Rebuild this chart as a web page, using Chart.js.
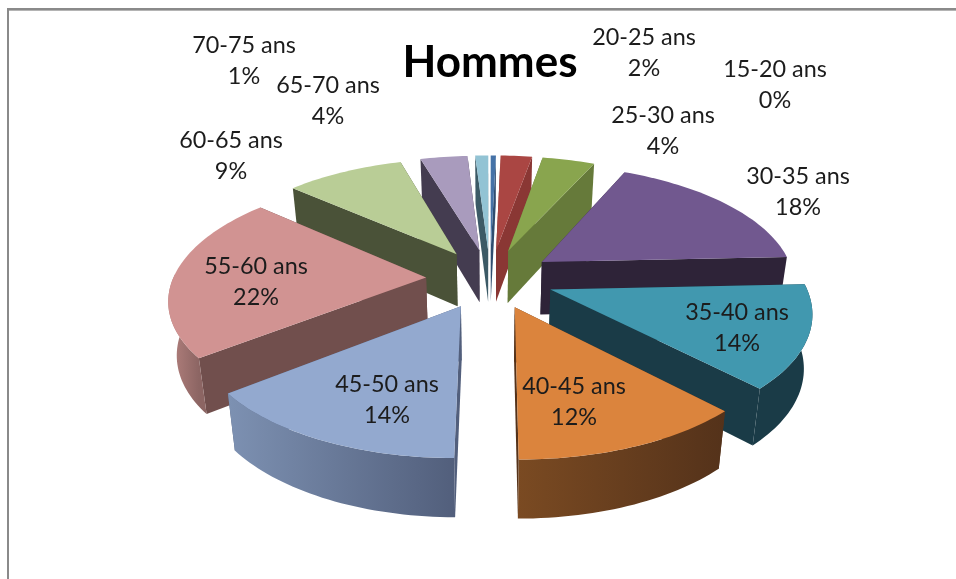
<!DOCTYPE html>
<html>
<head>
<meta charset="utf-8">
<title>Hommes</title>
<script src="https://cdn.jsdelivr.net/npm/chart.js@4"></script>
<style>
    html, body { margin: 0; padding: 0; background: #fff; overflow: hidden; }
    canvas { display: block; filter: blur(0.4px); }
</style>
</head>
<body>
<canvas id="pie" width="956" height="579"></canvas>
<script>
// share of men per age band, in %
const categories = ['15-20 ans', '20-25 ans', '25-30 ans', '30-35 ans', '35-40 ans', '40-45 ans',
    '45-50 ans', '55-60 ans', '60-65 ans', '65-70 ans', '70-75 ans'];
const shares = [0.4, 2.4, 4, 17.6, 13.6, 12.3, 14.4, 22.2, 9, 3.6, 1];

const topColors = ['#4572a7', '#aa4643', '#89a54e', '#71588f', '#4198af', '#db843d',
    '#93a9cf', '#d19392', '#b9cd96', '#a99bbd', '#92c3d4'];
const faceColors = ['#2f4d70', '#8a3734', '#667a3a', '#2e2338', '#1a3b47', '#54321a',
    '#525f7c', '#714f4d', '#4a5238', '#443c50', '#3c5a66'];
const rimLeft = ['#2f4d70', '#8a3734', '#667a3a', '#2e2338', '#1a3b47', '#7a4a22',
    '#7d91b2', '#b5827f', '#4a5238', '#443c50', '#3c5a66'];
const rimRight = ['#2f4d70', '#8a3734', '#667a3a', '#2e2338', '#1a3b47', '#54321a',
    '#525f7c', '#8c6563', '#4a5238', '#443c50', '#3c5a66'];

// centre of the first line of each label, same order as categories
const labelSpots = [[775, 69], [644, 37], [663, 115], [798, 176], [737, 312], [574, 386],
    [387, 384], [256, 266], [231, 140], [328, 85], [244, 45]];

const TILT = 0.4655;        // vertical squash of the disc
const PERSPECTIVE = 0.00063;
const DEPTH = 53;
const DEPTH_SHRINK = 0.0005; // the underside sits further away, so it is a bit narrower

function project(arc, X, Y, Z) {
    const s = 1 / (1 - PERSPECTIVE * Y);
    return [arc.x + X * s * (1 - Z * DEPTH_SHRINK), arc.y + TILT * Y * s + Z * Math.sqrt(s)];
}

function pathOf(ctx, points) {
    ctx.beginPath();
    points.forEach((p, i) => i ? ctx.lineTo(p[0], p[1]) : ctx.moveTo(p[0], p[1]));
    ctx.closePath();
}

function drawSlice(ctx, arc, i) {
    const mid = (arc.startAngle + arc.endAngle) / 2;
    const off = arc.options.offset;
    const tipX = Math.cos(mid) * off;
    const tipY = Math.sin(mid) * off;
    const r = arc.outerRadius;

    const steps = Math.max(4, Math.ceil((arc.endAngle - arc.startAngle) * 40));
    const angles = [];
    for (let k = 0; k <= steps; k++) angles.push(arc.startAngle + (arc.endAngle - arc.startAngle) * k / steps);
    const rim = (a, z) => project(arc, tipX + Math.cos(a) * r, tipY + Math.sin(a) * r, z);
    const tip = z => project(arc, tipX, tipY, z);

    // the two cut faces, the one further back first
    const cuts = [arc.startAngle, arc.endAngle].sort((a, b) => Math.sin(a) - Math.sin(b));
    cuts.forEach(a => {
        pathOf(ctx, [tip(0), rim(a, 0), rim(a, DEPTH), tip(DEPTH)]);
        ctx.fillStyle = faceColors[i];
        ctx.fill();
    });

    // outer wall, only where it faces the viewer
    const front = angles.filter(a => Math.sin(a) > -0.05);
    if (front.length > 1) {
        const upper = front.map(a => rim(a, 0));
        const lower = front.map(a => rim(a, DEPTH)).reverse();
        const xs = upper.map(p => p[0]);
        const grad = ctx.createLinearGradient(Math.min(...xs), 0, Math.max(...xs), 0);
        grad.addColorStop(0, rimLeft[i]);
        grad.addColorStop(1, rimRight[i]);
        pathOf(ctx, upper.concat(lower));
        ctx.fillStyle = grad;
        ctx.fill();
    }

    // top of the slice
    pathOf(ctx, [tip(0)].concat(angles.map(a => rim(a, 0))));
    ctx.fillStyle = topColors[i];
    ctx.fill();
}

const tiltedPie = {
    id: 'tiltedPie',
    beforeDraw(chart) {
        // frame of the original chart, cut off on the right and at the bottom
        const ctx = chart.ctx;
        ctx.save();
        ctx.fillStyle = '#8a8a8a';
        ctx.fillRect(7, 8, 949, 2);
        ctx.fillRect(7, 8, 2, 571);
        ctx.fillStyle = '#b4b4b4';
        ctx.fillRect(9, 10, 947, 1);
        ctx.restore();
    },
    beforeDatasetsDraw(chart) {
        const ctx = chart.ctx;
        const arcs = chart.getDatasetMeta(0).data;
        const order = arcs.map((arc, i) => i)
            .sort((a, b) => Math.sin((arcs[a].startAngle + arcs[a].endAngle) / 2) - Math.sin((arcs[b].startAngle + arcs[b].endAngle) / 2));
        ctx.save();
        order.forEach(i => drawSlice(ctx, arcs[i], i));
        ctx.restore();
        return false; // the flat arcs are replaced by the tilted ones
    },
    afterDraw(chart) {
        const ctx = chart.ctx;
        const total = shares.reduce((a, b) => a + b, 0);
        ctx.save();
        ctx.font = '23.4px Lato';
        ctx.fillStyle = '#1c1c1c';
        ctx.textAlign = 'center';
        ctx.textBaseline = 'middle';
        categories.forEach((name, i) => {
            ctx.fillText(name, labelSpots[i][0], labelSpots[i][1]);
            ctx.fillText(Math.round(shares[i] / total * 100) + '%', labelSpots[i][0], labelSpots[i][1] + 31);
        });
        ctx.restore();
    }
};

new Chart(document.getElementById('pie'), {
    type: 'pie',
    data: {
        labels: categories,
        datasets: [{
            data: shares,
            backgroundColor: topColors,
            borderWidth: 0,
            offset: 64,
            radius: 253
        }]
    },
    options: {
        responsive: false,
        animation: false,
        layout: { padding: { left: 24, right: 0, top: 0, bottom: 122 } },
        plugins: {
            legend: { display: false },
            tooltip: { enabled: false },
            title: {
                display: true,
                text: 'Hommes',
                color: '#000',
                font: { family: 'Lato', size: 44, weight: 'bold' },
                padding: { top: 36, bottom: 11 }
            }
        }
    },
    plugins: [tiltedPie]
});
</script>
</body>
</html>
